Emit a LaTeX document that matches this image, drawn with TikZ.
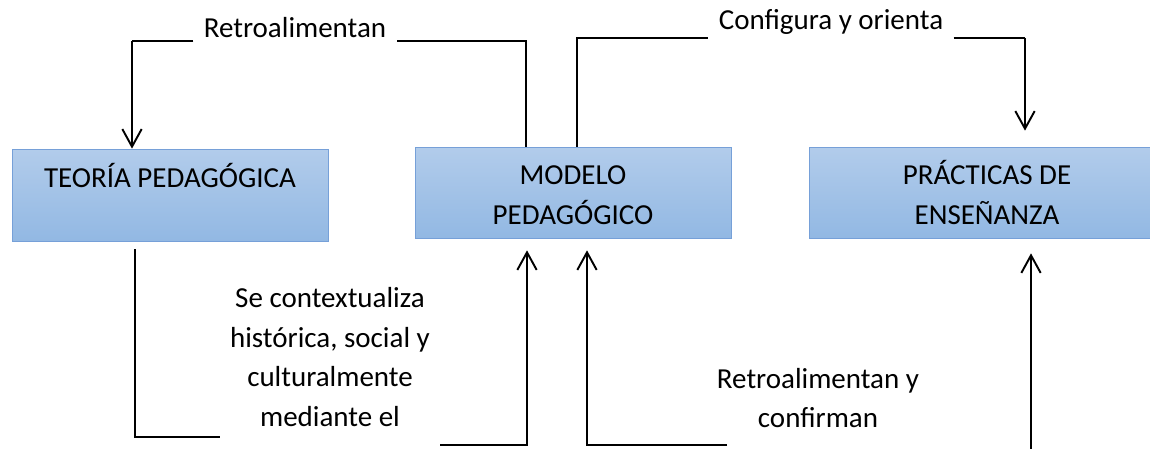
\documentclass[tikz,border=0pt]{standalone}
\usepackage{fontspec}
\setmainfont{Carlito}
\usetikzlibrary{arrows.meta}
\definecolor{cajaarriba}{RGB}{178,204,235}
\definecolor{cajaabajo}{RGB}{146,184,227}
\definecolor{cajaborde}{RGB}{118,160,216}

\begin{document}
\begin{tikzpicture}[x=0.02cm, y=-0.02cm]
    \tikzstyle{caja} = [draw=cajaborde, top color=cajaarriba, bottom color=cajaabajo, align=center, inner sep=0pt, font=\fontsize{16.5}{22.7}\selectfont];
    \tikzstyle{etiqueta} = [align=center, inner xsep=0.2cm, inner ysep=0.1cm, font=\fontsize{16.5}{22.7}\selectfont];
    \tikzstyle{linea} = [line width=0.6pt];
    \tikzstyle{flecha} = [line width=1.1pt, -{Straight Barb[length=10pt, width=11pt]}];
    \useasboundingbox (0,0) rectangle (1150,449);
    % cajas
    \node[caja, minimum width=6.32cm, minimum height=1.84cm] (teoria) at (170,195) {TEORÍA PEDAGÓGICA\\ \mbox{}};
    \node[caja, minimum width=6.32cm, minimum height=1.82cm] (modelo) at (573,192.5) {\vphantom{Á}MODELO\\PEDAGÓGICO};
    \node[caja, minimum width=7.12cm, minimum height=1.82cm] (practicas) at (987,192.5) {PRÁCTICAS DE\\ENSEÑANZA};
    % textos de los conectores
    \node[etiqueta] (retro) at (295,28) {Retroalimentan};
    \node[etiqueta] (config) at (831,22) {Configura y orienta};
    \node[etiqueta] (contexto) at (330,357) {Se contextualiza\\histórica, social y\\culturalmente\\mediante el};
    \node[etiqueta] (confirma) at (818,398) {Retroalimentan y\\confirman};
    % esquinas
    \coordinate (c1) at (526,41);
    \coordinate (c2) at (132,41);
    \coordinate (c3) at (577,38);
    \coordinate (c4) at (1025,38);
    \coordinate (d1) at (135,437);
    \coordinate (d2) at (527,445);
    \coordinate (d3) at (587,445);
    \coordinate (d3a) at (727,445);
    \coordinate (d4) at (1031,449);
    % arriba
    \draw[linea] (modelo.north -| c1) -- (c1) -- (retro.east |- c1);
    \draw[linea] (retro.west |- c2) -- (c2);
    \draw[flecha] (c2) -- (teoria.north -| c2);
    \draw[linea] (modelo.north -| c3) -- (c3) -- (config.west |- c3);
    \draw[linea] (config.east |- c4) -- (c4);
    \draw[flecha, shorten >=0.32cm] (c4) -- (practicas.north -| c4);
    % abajo
    \draw[linea, shorten <=0.16cm] (teoria.south -| d1) -- (d1) -- (contexto.west |- d1);
    \draw[flecha, shorten >=0.24cm] (contexto.east |- d2) -- (d2) -- (modelo.south -| d2);
    \draw[flecha, shorten >=0.24cm] (d3a) -- (d3) -- (modelo.south -| d3);
    \draw[flecha, shorten >=0.3cm] (d4) -- (practicas.south -| d4);
\end{tikzpicture}
\end{document}
